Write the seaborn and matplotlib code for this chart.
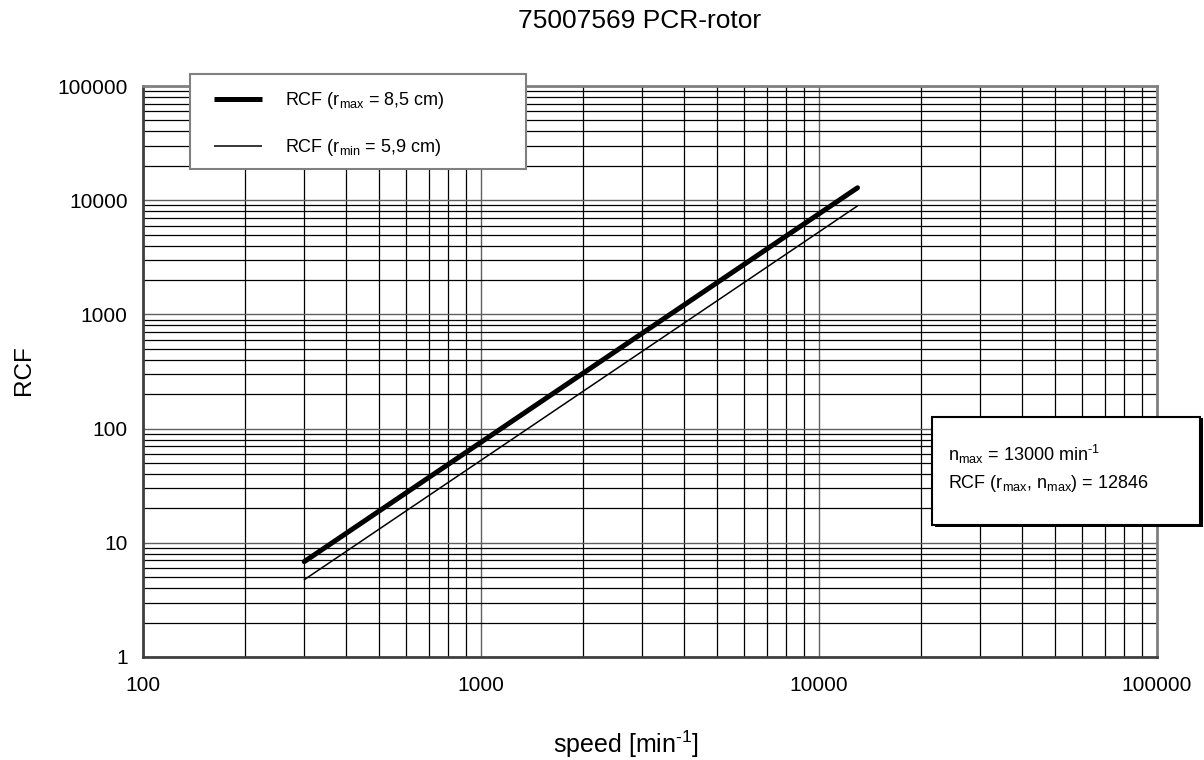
import matplotlib
matplotlib.use('Agg')
import matplotlib.pyplot as plt
import seaborn as sns
import pandas as pd
from matplotlib.patches import Rectangle
from matplotlib.ticker import FixedLocator, LogLocator, NullFormatter

# Data (straight lines on log-log, endpoints only)
speed = [300, 13000]
rcf_rmax = [6.84, 12846]
rcf_rmin = [4.75, 8917]
label_rmax = r'RCF (r$_{\mathrm{max}}$ = 8,5 cm)'
label_rmin = r'RCF (r$_{\mathrm{min}}$ = 5,9 cm)'
x_ticks = [100, 1000, 10000, 100000]
y_ticks = [1, 10, 100, 1000, 10000, 100000]

df = pd.DataFrame({'speed': speed + speed,
                   'rcf': rcf_rmax + rcf_rmin,
                   'series': [label_rmax] * 2 + [label_rmin] * 2})

sns.set_style("white")
plt.rcParams['font.family'] = ['Liberation Sans', 'DejaVu Sans']
plt.rcParams['mathtext.fontset'] = 'custom'
plt.rcParams['mathtext.rm'] = 'Liberation Sans'
plt.rcParams['mathtext.it'] = 'Liberation Sans:italic'
plt.rcParams['mathtext.default'] = 'regular'
plt.rcParams['text.color'] = 'black'
plt.rcParams['axes.labelcolor'] = 'black'

fig = plt.figure(figsize=(12.04, 7.6), dpi=100)
ax = fig.add_axes([143 / 1204, 1 - 657 / 760, (1157 - 143) / 1204, (657 - 86) / 760])

sns.lineplot(data=df[df.series == label_rmax], x='speed', y='rcf', color='black',
             linewidth=3.6, solid_capstyle='round', ax=ax, label=label_rmax, zorder=4)
sns.lineplot(data=df[df.series == label_rmin], x='speed', y='rcf', color='black',
             linewidth=1.1, ax=ax, label=label_rmin, zorder=4)

ax.set_xscale('log')
ax.set_yscale('log')
ax.set_xlim(100, 100000)
ax.set_ylim(1, 100000)
ax.xaxis.set_major_locator(FixedLocator(x_ticks))
ax.yaxis.set_major_locator(FixedLocator(y_ticks))
ax.set_xticklabels([str(t) for t in x_ticks])
ax.set_yticklabels([str(t) for t in y_ticks])
ax.xaxis.set_minor_locator(LogLocator(base=10, subs=range(2, 10)))
ax.yaxis.set_minor_locator(LogLocator(base=10, subs=range(2, 10)))
ax.xaxis.set_minor_formatter(NullFormatter())
ax.yaxis.set_minor_formatter(NullFormatter())

ax.grid(which='major', color='#606060', linewidth=1.0)
ax.grid(which='minor', color='black', linewidth=0.9)
ax.set_axisbelow(True)
ax.tick_params(which='major', direction='out', length=4.5, width=1, color='#444444',
               labelsize=15, labelcolor='black')
ax.tick_params(axis='x', which='major', pad=9)
ax.tick_params(axis='y', which='major', pad=6.5)
ax.tick_params(which='minor', length=0)
for side, sp in ax.spines.items():
    sp.set_color('#808080')
    sp.set_linewidth(2)
ax.spines['left'].set_color('#404040')
ax.spines['bottom'].set_color('#404040')

ax.set_xlabel(r'speed [min$^{\text{-1}}$]', fontsize=18)
ax.set_ylabel('RCF', fontsize=17.5)
ax.xaxis.label.set_va('center')
ax.yaxis.label.set_va('center')
ax.xaxis.set_label_coords((626 - 143) / 1014, -(744 - 657) / 571)
ax.yaxis.set_label_coords(-(143 - 24) / 1014, (657 - 370) / 571)
fig.text(640 / 1204, 1 - 21 / 760, '75007569 PCR-rotor', fontsize=19,
         ha='center', va='center')

# Legend box overlapping the top of the plot
ax.get_legend().remove()
fig.patches.append(Rectangle((190 / 1204, 1 - 169 / 760), 336 / 1204, 95 / 760,
                             transform=fig.transFigure, facecolor='white',
                             edgecolor='#808080', linewidth=1.5, zorder=3))
handles, labels = ax.get_legend_handles_labels()
leg = fig.legend(handles, labels, loc='upper left',
                 bbox_to_anchor=(198 / 1204, 1 - 74 / 760), frameon=False,
                 fontsize=13, handlelength=2.67, handletextpad=1.25,
                 labelspacing=1.45)
for ln in leg.get_lines():
    ln.set_solid_capstyle('butt')
leg.set_zorder(5)

# Info box on the right
fig.patches.append(Rectangle((935 / 1204, 1 - 527 / 760), 268 / 1204, 109 / 760,
                             transform=fig.transFigure, facecolor='black',
                             edgecolor='black', linewidth=0, zorder=3))
fig.patches.append(Rectangle((932 / 1204, 1 - 525 / 760), 268 / 1204, 108 / 760,
                             transform=fig.transFigure, facecolor='white',
                             edgecolor='black', linewidth=1.5, zorder=3))
fig.text(948 / 1204, 1 - 454 / 760, r'n$_{\mathrm{max}}$ = 13000 min$^{\text{-1}}$',
         fontsize=13, ha='left', va='center', zorder=6)
fig.text(948 / 1204, 1 - 483 / 760,
         r'RCF (r$_{\mathrm{max}}$, n$_{\mathrm{max}}$) = 12846',
         fontsize=13, ha='left', va='center', zorder=6)

fig.savefig('out.png', dpi=100)
